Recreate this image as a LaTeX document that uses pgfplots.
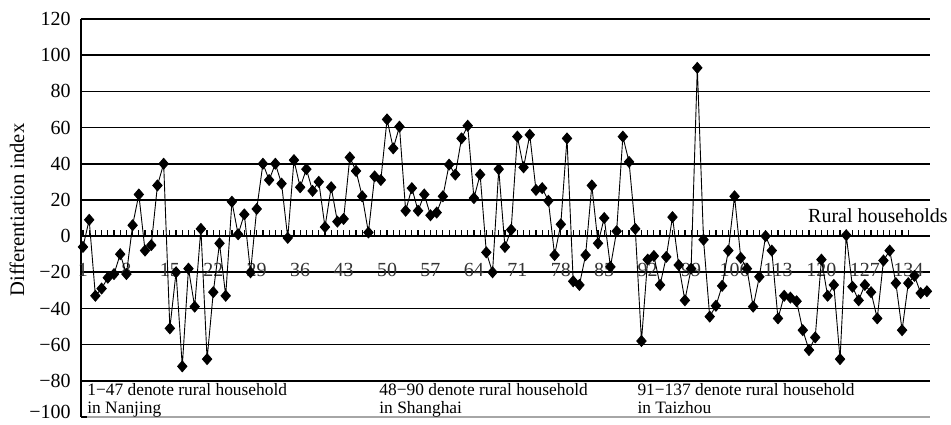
\documentclass[border=0pt]{standalone}
\usepackage{fontspec}
\setmainfont{Liberation Serif}
\usepackage{pgfplots}
\usepackage{pgfplotstable}
\pgfplotsset{compat=1.18}
\pgfplotstableread{
x y
1 -6
2 9
3 -33
4 -29
5 -23
6 -21
7 -10
8 -21
9 6
10 23
11 -8
12 -5
13 28
14 40
15 -51
16 -20
17 -72
18 -18
19 -39
20 4
21 -68
22 -31
23 -4
24 -33
25 19
26 1
27 12
28 -20
29 15
30 40
31 31
32 40
33 29
34 -1
35 42
36 27
37 37
38 25
39 30
40 5
41 27
42 8
43 9.5
44 43.5
45 36
46 22
47 2
48 33
49 31
50 64.5
51 48.5
52 60.5
53 14
54 26.5
55 14
56 23
57 11.5
58 13
59 22
60 39.5
61 34
62 54
63 61
64 21
65 34
66 -9
67 -20
68 37
69 -6
70 3.5
71 55
72 38
73 56
74 25.5
75 26.5
76 19.5
77 -10.5
78 6.5
79 54
80 -25
81 -27
82 -10.5
83 28
84 -4
85 10
86 -17
87 2.7
88 55
89 41
90 4
91 -58
92 -13
93 -11
94 -27
95 -11.5
96 10.5
97 -16
98 -35.5
99 -18
100 93
101 -2
102 -44.5
103 -38.5
104 -27.5
105 -8
106 22
107 -12
108 -18
109 -39
110 -22.5
111 0
112 -8
113 -45.5
114 -33
115 -34
116 -36
117 -52
118 -63
119 -56
120 -13
121 -33
122 -27
123 -68
124 0.5
125 -28
126 -35.5
127 -27
128 -31
129 -45.5
130 -13.5
131 -8
132 -26
133 -52
134 -26
135 -22
136 -31.5
137 -30.5
}\datatable
\begin{document}
\begin{tikzpicture}
\useasboundingbox (-40.5pt,-3.5pt) rectangle (435pt,208.5pt);
\begin{axis}[
  scale only axis, width=424.5pt, height=199pt,
  xmin=0.68, xmax=137.5, ymin=-100, ymax=120,
  axis x line=middle, axis y line=left,
  axis line style={-, black, line width=0.8pt},
  clip=false,
  ytick={-80,-60,-40,-20,0,20,40,60,80,100,120},
  yticklabels={−80,−60,−40,−20,0,20,40,60,80,100,120},
  extra y ticks={-100}, extra y tick labels={−100},
  extra y tick style={grid style={gray!70, line width=0.6pt}, yticklabel style={yshift=2.5pt}},
  ymajorgrids, grid style={black, line width=0.8pt},
  yticklabel style={font=\fontsize{10}{11}\selectfont, xshift=-1.7pt},
  xtick={1,8,...,134}, minor x tick num=6,
  tick align=inside, major tick length=2.8pt, minor tick length=2.8pt,
  tick style={black, line width=0.6pt},
  /pgf/number format/assume math mode=true,
  xticklabel style={font=\fontsize{10}{11}\selectfont, text=black!80, anchor=center, yshift=-17pt},
  ylabel={Differentiation index},
  every axis y label/.append style={at={(axis description cs:-0.0754,0.52)}, anchor=center, font=\fontsize{10.3}{11}\selectfont},
]
\addplot[black, line width=0.45pt, mark=diamond*, mark size=2.7pt, mark options={solid, fill=black, xscale=1.15}] table[x=x, y=y] {\datatable};
\node[anchor=north west, align=left, inner sep=0, font=\fontsize{8.7}{8.7}\selectfont] at (axis cs:1.64,-81.3) {1−47 denote rural household\\in Nanjing};
\node[anchor=north west, align=left, inner sep=0, font=\fontsize{8.7}{8.7}\selectfont] at (axis cs:48.7,-81.3) {48−90 denote rural household\\in Shanghai};
\node[anchor=north west, align=left, inner sep=0, font=\fontsize{8.7}{8.7}\selectfont] at (axis cs:90.3,-81.3) {91−137 denote rural household\\in Taizhou};
\node[anchor=base east, inner sep=0, font=\fontsize{10}{11}\selectfont] at (axis cs:140.4,7.7) {Rural households};
\end{axis}
\end{tikzpicture}
\end{document}
